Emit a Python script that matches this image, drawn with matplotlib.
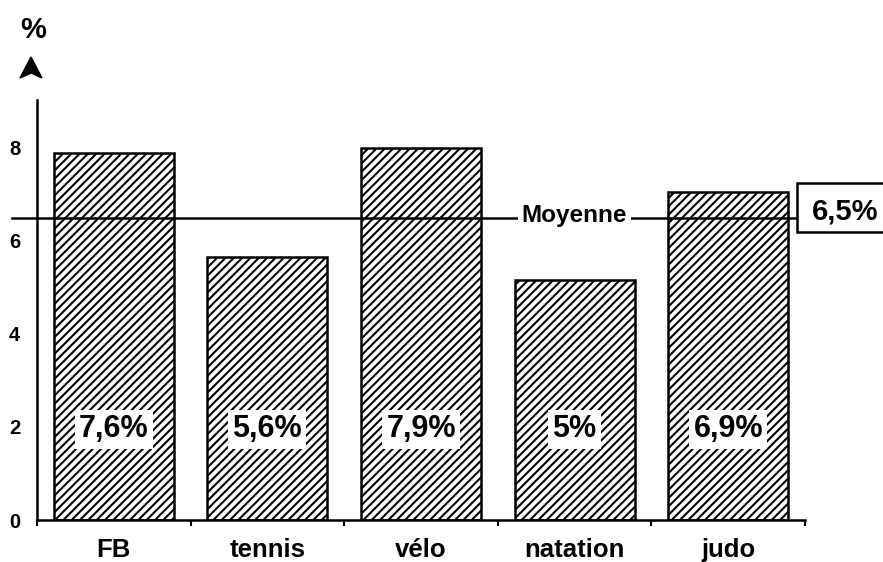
import matplotlib
matplotlib.use("Agg")
import matplotlib.pyplot as plt
from matplotlib.patches import Polygon, Rectangle

# donnees
sports = ["FB", "tennis", "vélo", "natation", "judo"]
hauteurs = [7.9, 5.65, 8.0, 5.15, 7.05]
etiquettes = ["7,6%", "5,6%", "7,9%", "5%", "6,9%"]
moyenne = 6.5
etiquette_moyenne = "6,5%"
yticks = [0, 2, 4, 6, 8]

plt.rcParams["font.family"] = ["Liberation Sans", "DejaVu Sans"]
plt.rcParams["font.weight"] = "bold"
plt.rcParams["hatch.linewidth"] = 1.5

fig = plt.figure(figsize=(8.83, 5.62), dpi=100)
ax = fig.add_axes([37/883, 42/562, 768/883, 420/562])

x = range(len(sports))
ax.bar(x, hauteurs, width=0.78, color="white", edgecolor="black",
       linewidth=1.8, hatch="////", zorder=2)

for i in x:
    ax.text(i, 1.95, etiquettes[i], ha="center", va="center", fontsize=22,
            fontweight="bold", zorder=4,
            bbox=dict(facecolor="white", edgecolor="none", pad=3))

# ligne de la moyenne
ax.plot([-0.66, 4.46], [moyenne, moyenne], color="black", lw=1.8,
        clip_on=False, zorder=3)
ax.text(3.0, moyenne + 0.05, "Moyenne", ha="center", va="center", fontsize=17.5,
        fontweight="bold", zorder=5,
        bbox=dict(facecolor="white", edgecolor="none", pad=3))
ax.add_patch(Rectangle((4.448, 6.19), 0.62, 1.06, facecolor="white",
                       edgecolor="black", lw=1.8, clip_on=False, zorder=5))
ax.text(4.76, moyenne + 0.14, etiquette_moyenne, ha="center", va="center",
        fontsize=21, fontweight="bold", zorder=6)

ax.set_xlim(-0.5, 4.5)
ax.set_ylim(0, 9.03)
ax.set_xticks(list(x))
ax.set_xticklabels(sports, fontsize=18.5, fontweight="bold")
ax.set_xticks([i + 0.5 for i in range(-1, 5)], minor=True)
ax.tick_params(axis="x", which="major", length=0, pad=13)
ax.tick_params(axis="x", which="minor", length=4, width=1.5, direction="out")
ax.set_yticks(yticks)
ax.set_yticklabels([str(v) for v in yticks], fontsize=14.5, fontweight="bold")
ax.tick_params(axis="y", length=0, pad=12)

for s in ["top", "right"]:
    ax.spines[s].set_visible(False)
ax.spines["left"].set_linewidth(1.8)
ax.spines["bottom"].set_linewidth(1.8)

# fleche et symbole %
pts = [(31, 57), (20, 78), (31, 73), (42, 78)]
fig.patches.append(Polygon([(px/883, 1 - py/562) for px, py in pts],
                           closed=True, facecolor="black", edgecolor="black",
                           transform=fig.transFigure, figure=fig))
fig.text(33/883, 1 - 30/562, "%", ha="center", va="center", fontsize=21,
         fontweight="bold")

fig.savefig("out.png", dpi=100, facecolor="white")
